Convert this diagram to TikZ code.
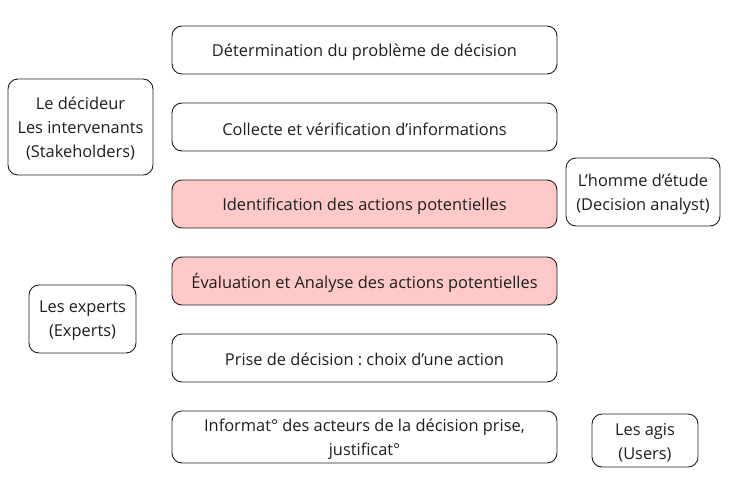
\documentclass[tikz,border=0pt]{standalone}
\usepackage{fontspec}
\setmainfont{Open Sans}
\frenchspacing
\definecolor{stroke}{HTML}{1E1E1E}
\definecolor{pinkfill}{HTML}{FFC9C9}
\begin{document}
\begin{tikzpicture}[x=1pt,y=-1pt,
  box/.style={draw=stroke, line width=0.9pt, rounded corners=10pt, inner sep=0pt},
  hot/.style={box, fill=pinkfill},
  lbl/.style={align=center, font=\fontsize{16.4}{24}\selectfont, text=stroke, inner sep=0pt, yshift=-1.8pt}]
\useasboundingbox (0,0) rectangle (749,482);
\node[box, minimum width=385pt, minimum height=48pt, label={[lbl]center:Détermination du problème de décision}] (s1) at (364.5,50) {};
\node[box, minimum width=385pt, minimum height=48pt, label={[lbl]center:Collecte et vérification d’informations}] (s2) at (364.5,127) {};
\node[hot, minimum width=385pt, minimum height=48pt, label={[lbl]center:Identification des actions potentielles}] (s3) at (364.5,204) {};
\node[hot, minimum width=385pt, minimum height=48pt, label={[lbl]center:Évaluation et Analyse des actions potentielles}] (s4) at (364.5,281) {};
\node[box, minimum width=385pt, minimum height=48pt, label={[lbl]center:Prise de décision : choix d’une action}] (s5) at (364.5,358) {};
\node[box, minimum width=385pt, minimum height=52pt, label={[lbl]center:{Informat° des acteurs de la décision prise,\\justificat°}}] (s6) at (364.5,437) {};
\node[box, minimum width=145pt, minimum height=96pt, label={[lbl]center:{Le décideur\\Les intervenants\\(Stakeholders)}}] (a1) at (80.5,127) {};
\node[box, minimum width=107pt, minimum height=68pt, label={[lbl]center:{Les experts\\(Experts)}}] (a2) at (82.5,319) {};
\node[box, minimum width=154pt, minimum height=68pt, label={[lbl]center:{L’homme d’étude\\(Decision analyst)}}] (a3) at (643,192) {};
\node[box, minimum width=106pt, minimum height=53pt, label={[lbl]center:{Les agis\\(Users)}}] (a4) at (645,440.5) {};
\end{tikzpicture}
\end{document}
